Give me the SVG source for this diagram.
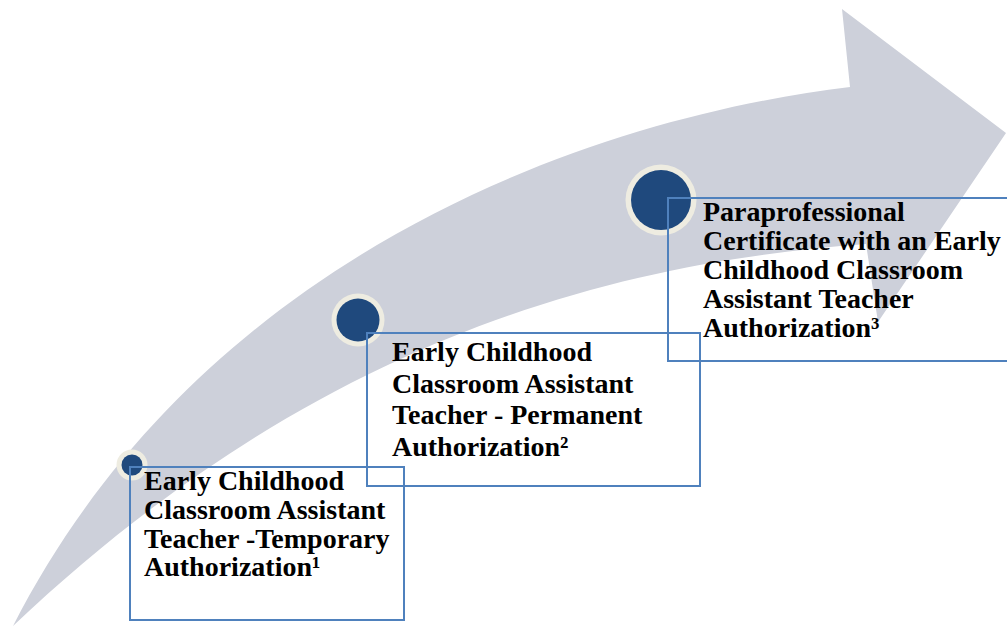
<svg xmlns="http://www.w3.org/2000/svg" width="1007" height="628" viewBox="0 0 1007 628">
  <style>
    .ring { fill: #EEECE1; }
    .dot { fill: #1F497D; }
    .box { fill: none; stroke: #4F81BD; stroke-width: 2; }
    .lbl { font-family: "Liberation Serif", "Times New Roman", serif; font-weight: bold; font-size: 28px; fill: #000000; }
  </style>
  <rect x="0" y="0" width="1007" height="628" fill="#FFFFFF"/>
  <g id="arrow">
    <path fill="#CDD0DA" d="M 13,626 C 200,260 580,120 850,87 L 842,9 L 1006,133 L 878,322 L 866,244 C 620,262 320,335 13,626 Z"/>
  </g>
  <g id="connectors"></g>
  <g id="node1">
    <circle class="ring" cx="132" cy="465" r="15.5"/>
    <circle class="dot" cx="132" cy="465" r="10.5"/>
    <rect class="box" x="130" y="467" width="274" height="153"/>
    <text class="lbl">
      <tspan x="144" y="490">Early Childhood</tspan>
      <tspan x="144" y="519">Classroom Assistant</tspan>
      <tspan x="144" y="548">Teacher -Temporary</tspan>
      <tspan x="144" y="576">Authorization¹</tspan>
    </text>
  </g>
  <g id="node2">
    <circle class="ring" cx="358" cy="320" r="26.5"/>
    <circle class="dot" cx="358" cy="320" r="21.5"/>
    <rect class="box" x="367" y="333" width="333" height="153"/>
    <text class="lbl">
      <tspan x="392" y="361">Early Childhood</tspan>
      <tspan x="392" y="393">Classroom Assistant</tspan>
      <tspan x="392" y="424">Teacher - Permanent</tspan>
      <tspan x="392" y="456">Authorization²</tspan>
    </text>
  </g>
  <g id="node3">
    <circle class="ring" cx="661" cy="200" r="35.5"/>
    <circle class="dot" cx="661" cy="200" r="30"/>
    <rect class="box" x="668" y="198" width="345" height="163"/>
    <text class="lbl">
      <tspan x="703" y="221">Paraprofessional</tspan>
      <tspan x="703" y="250">Certificate with an Early</tspan>
      <tspan x="703" y="279">Childhood Classroom</tspan>
      <tspan x="703" y="308">Assistant Teacher</tspan>
      <tspan x="703" y="337">Authorization³</tspan>
    </text>
  </g>
</svg>
